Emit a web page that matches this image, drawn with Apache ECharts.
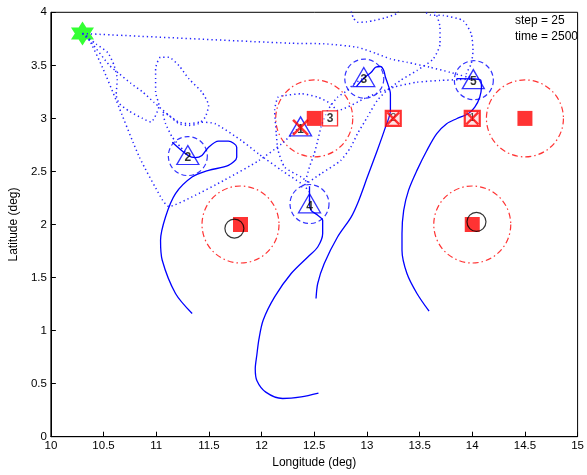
<!DOCTYPE html>
<html>
<head>
<meta charset="utf-8">
<script src="https://cdn.jsdelivr.net/npm/echarts@6/dist/echarts.min.js"></script>
<style>
  html, body { margin: 0; padding: 0; background: #fff; }
  #chart { width: 587px; height: 475px; }
</style>
</head>
<body>
<div id="chart"></div>
<script>
// ---- scenario state at the current step ----
const stepCount = 25;
const simTime = 2500;

// launch base
const basePos = [[10.30, 3.80]];

// vehicles 1..5 (current positions)
const uavIds = ['1', '2', '3', '4', '5'];
const uavPos = [[12.37, 2.925], [11.30, 2.655], [12.97, 3.39], [12.455, 2.20], [14.01, 3.37]];
// vehicle 1 is lost
const lostUav = [[12.37, 2.915]];
// sensor footprints of the active vehicles
const sensorCenters = [[11.30, 2.645], [12.975, 3.375], [12.455, 2.193], [14.015, 3.36]];

// targets and their threat rings
const targetPos = [[11.80, 2.00], [12.50, 3.00], [14.00, 2.00], [14.50, 3.00]];
const openTargetPos = [[12.65, 3.00]];
const openTargetIds = ['3'];
const hitTargetPos = [[13.25, 3.00], [14.00, 3.00]];
const hitTargetIds = ['2', '1'];
// position estimates
const estimatePos = [[11.742, 1.962], [14.04, 2.025]];

// flown trails (dotted)
const trailA = [[10.30, 3.80], [10.35, 3.767], [10.49, 3.48], [10.62, 3.17], [10.84, 2.635], [11.06, 2.23], [11.12, 2.17],
  [11.34, 2.26], [11.65, 2.42], [11.97, 2.60], [12.19, 2.76], [12.37, 2.93]];
const trailB = [[10.30, 3.80], [10.43, 3.70], [10.54, 3.62], [10.60, 3.50], [10.63, 3.37], [10.62, 3.22], [10.65, 3.14],
  [10.74, 3.07], [10.87, 3.00], [10.95, 2.965], [11.026, 3.122], [10.994, 3.247], [10.994, 3.373], [10.994, 3.467],
  [11.04, 3.576], [11.12, 3.576], [11.215, 3.498], [11.31, 3.373], [11.434, 3.247], [11.497, 3.122], [11.465, 3.012],
  [11.40, 2.95], [11.31, 2.934], [11.215, 2.95], [11.12, 3.028], [11.06, 3.06], [11.089, 2.95], [11.152, 2.824],
  [11.23, 2.73], [11.30, 2.655]];
const trailC = [[10.30, 3.80], [10.38, 3.72], [10.556, 3.50], [10.65, 3.42], [10.76, 3.33], [10.87, 3.25], [10.98, 3.15],
  [11.12, 3.03], [11.215, 2.965], [11.31, 2.95], [11.42, 2.965], [11.56, 2.95], [11.81, 2.79], [11.97, 2.667],
  [12.19, 2.51], [12.376, 2.385], [12.455, 2.30], [12.455, 2.20]];
const trailD = [[12.44, 2.40], [12.376, 2.447], [12.22, 2.54], [12.156, 2.70], [12.14, 2.855], [12.124, 3.075],
  [12.156, 3.20], [12.22, 3.216], [12.376, 3.232], [12.533, 3.20], [12.658, 3.138], [12.721, 3.075], [13.004, 3.20],
  [13.254, 3.294], [13.475, 3.341], [13.694, 3.357], [13.88, 3.366], [14.01, 3.37]];
const trailE = [[12.376, 2.353], [12.564, 2.479], [12.752, 2.604], [12.847, 2.729], [12.91, 2.855], [13.004, 3.012],
  [13.098, 3.169], [13.19, 3.263], [13.317, 3.357], [13.475, 3.451], [13.63, 3.561], [13.694, 3.702], [13.694, 3.859],
  [13.663, 3.969], [13.62, 4.05]];
const trailF = [[12.407, 2.369], [12.454, 2.541], [12.50, 2.667], [12.533, 2.79], [12.564, 2.918], [12.627, 3.075],
  [12.721, 3.20], [12.815, 3.263], [12.877, 3.326], [12.97, 3.38]];
const trailG = [[10.30, 3.80], [12.28, 3.708], [12.595, 3.703], [12.91, 3.67], [13.098, 3.608], [13.223, 3.561],
  [13.38, 3.529], [13.60, 3.482], [13.788, 3.435], [14.01, 3.373]];
const trailH = [[12.84, 4.05], [12.87, 3.95], [12.91, 3.906], [13.00, 3.91], [13.066, 3.922], [13.18, 3.95],
  [13.286, 3.99], [13.31, 4.05]];
const trailI = [[13.50, 4.05], [13.60, 3.975], [13.725, 3.97], [13.913, 3.922], [13.99, 3.797], [14.007, 3.64],
  [13.99, 3.514], [13.945, 3.42], [14.01, 3.37]];
const trails = [trailA, trailB, trailC, trailD, trailE, trailF, trailG, trailH, trailI];

// planned paths (solid)
const pathA = [[11.341, 1.161], [11.183, 1.350], [11.057, 1.663], [11.041, 1.851], [11.088, 2.071], [11.183, 2.291],
  [11.340, 2.447], [11.497, 2.510], [11.685, 2.557], [11.764, 2.635], [11.764, 2.729], [11.685, 2.786], [11.591, 2.786],
  [11.497, 2.729], [11.434, 2.651], [11.371, 2.630], [11.302, 2.651], [11.152, 2.776]];
const pathB = [[12.54, 0.41], [12.376, 0.375], [12.20, 0.36], [12.04, 0.42], [11.955, 0.53], [11.94, 0.64],
  [11.955, 0.77], [11.975, 0.92], [12.015, 1.098], [12.124, 1.318], [12.281, 1.538], [12.439, 1.694], [12.533, 1.788],
  [12.580, 1.914], [12.580, 2.040], [12.533, 2.087], [12.470, 2.134], [12.455, 2.197], [12.455, 2.36]];
const pathC = [[12.517, 1.302], [12.533, 1.444], [12.595, 1.632], [12.721, 1.882], [12.85, 2.07], [12.92, 2.22],
  [13.004, 2.447], [13.098, 2.698], [13.176, 2.918], [13.223, 3.075], [13.223, 3.232], [13.198, 3.326], [13.176, 3.388],
  [13.160, 3.451], [13.129, 3.489], [13.082, 3.482], [13.041, 3.435], [12.972, 3.38], [12.90, 3.30]];
const pathD = [[13.59, 1.183], [13.475, 1.350], [13.380, 1.538], [13.333, 1.757], [13.333, 1.914], [13.349, 2.134],
  [13.395, 2.322], [13.475, 2.510], [13.569, 2.698], [13.663, 2.856], [13.757, 2.950], [13.851, 2.997], [13.961, 3.044],
  [14.024, 3.106], [14.071, 3.200], [14.087, 3.294], [14.08, 3.36], [14.01, 3.372], [13.85, 3.375]];
const paths = [pathA, pathB, pathC, pathD];

const BLUE = '#0000ff';
const RED = '#ff0000';
const FONT = 'Liberation Sans, Arial, Helvetica, sans-serif';
const HEXAGRAM = 'path://M12,0 L22.4,18 L1.6,18 Z M12,24 L1.6,6 L22.4,6 Z';
const CROSS = 'path://M0,0 L10,10 M10,0 L0,10';

const series = [];

// threat rings around targets
series.push({
  type: 'scatter', data: targetPos, symbol: 'circle', symbolSize: 77, silent: true,
  itemStyle: { color: 'rgba(0,0,0,0)', borderColor: RED, borderWidth: 1.2, borderType: [6, 3, 1.5, 3] }
});
// sensor footprints
series.push({
  type: 'scatter', data: sensorCenters, symbol: 'circle', symbolSize: 39, silent: true,
  itemStyle: { color: 'rgba(0,0,0,0)', borderColor: BLUE, borderWidth: 1.2, borderType: [5, 3] }
});
// base
series.push({
  type: 'scatter', data: basePos, symbol: HEXAGRAM, symbolSize: [23, 24], silent: true,
  itemStyle: { color: '#00ff00' }
});
// trails
trails.forEach(t => series.push({
  type: 'line', data: t, showSymbol: false, symbol: 'none', smooth: 0.2, silent: true, clip: true,
  lineStyle: { color: '#2222ff', width: 1.5, type: [1.3, 3] }
}));
// planned paths
paths.forEach(p => series.push({
  type: 'line', data: p, showSymbol: false, symbol: 'none', smooth: 0.3, silent: true, clip: true,
  lineStyle: { color: BLUE, width: 1.3 }
}));
// estimates
series.push({
  type: 'scatter', data: estimatePos, symbol: 'circle', symbolSize: 19, silent: true, z: 3,
  itemStyle: { color: 'rgba(0,0,0,0)', borderColor: '#000', borderWidth: 1.2 }
});
// targets
series.push({
  type: 'scatter', data: targetPos, symbol: 'rect', symbolSize: 15, silent: true, z: 2,
  itemStyle: { color: RED }
});
series.push({
  type: 'scatter', silent: true, z: 3,
  data: openTargetPos.map((p, i) => ({ value: p, name: openTargetIds[i] })),
  symbol: 'rect', symbolSize: 15,
  itemStyle: { color: 'rgba(255,255,255,0.6)', borderColor: RED, borderWidth: 1.3 },
  label: { show: true, position: 'inside', formatter: '{b}', color: '#000', fontSize: 12, fontFamily: FONT, fontWeight: 'bold' }
});
series.push({
  type: 'scatter', silent: true, z: 3,
  data: hitTargetPos.map((p, i) => ({ value: p, name: hitTargetIds[i] })),
  symbol: 'rect', symbolSize: 15,
  itemStyle: { color: 'rgba(255,120,120,0.25)', borderColor: RED, borderWidth: 2.2 },
  label: { show: true, position: 'inside', formatter: '{b}', color: '#222', fontSize: 11, fontFamily: FONT }
});
series.push({
  type: 'scatter', data: hitTargetPos, symbol: CROSS, symbolSize: 12, silent: true, z: 4,
  itemStyle: { color: 'rgba(0,0,0,0)', borderColor: RED, borderWidth: 2.2 }
});
// vehicles
series.push({
  type: 'scatter', silent: true, z: 4,
  data: uavPos.map((p, i) => ({ value: p, name: uavIds[i] })),
  symbol: 'triangle', symbolSize: [22, 19],
  itemStyle: { color: 'rgba(0,0,0,0)', borderColor: BLUE, borderWidth: 1.3 },
  label: { show: true, position: 'inside', offset: [0, 3], formatter: '{b}', color: '#000', fontSize: 12, fontFamily: FONT, fontWeight: 'bold' }
});
series.push({
  type: 'scatter', data: lostUav, symbol: CROSS, symbolSize: 15, silent: true, z: 5,
  itemStyle: { color: 'rgba(0,0,0,0)', borderColor: RED, borderWidth: 2.6 }
});

const chart = echarts.init(document.getElementById('chart'), null, { renderer: 'canvas' });
chart.setOption({
  animation: false,
  backgroundColor: '#fff',
  grid: { left: 47.7, right: 8.5, top: 12.3, bottom: 38.3, show: true, borderColor: '#000', borderWidth: 1, containLabel: false },
  xAxis: {
    type: 'value', min: 10, max: 15, interval: 0.5,
    name: 'Longitude (deg)', nameLocation: 'middle', nameGap: 20,
    nameTextStyle: { color: '#000', fontSize: 12, fontFamily: FONT },
    axisLine: { show: true, lineStyle: { color: '#000', width: 1 } },
    axisTick: { show: true, inside: true, length: 5, lineStyle: { color: '#000' } },
    axisLabel: { color: '#000', fontSize: 11.5, fontFamily: FONT, margin: 3, showMinLabel: true, showMaxLabel: true },
    splitLine: { show: false }
  },
  yAxis: {
    type: 'value', min: 0, max: 4, interval: 0.5,
    name: 'Latitude (deg)', nameLocation: 'middle', nameGap: 23, nameRotate: 90,
    nameTextStyle: { color: '#000', fontSize: 12, fontFamily: FONT },
    axisLine: { show: true, lineStyle: { color: '#000', width: 1 } },
    axisTick: { show: true, inside: true, length: 5, lineStyle: { color: '#000' } },
    axisLabel: { color: '#000', fontSize: 11.5, fontFamily: FONT, margin: 4, showMinLabel: true, showMaxLabel: true },
    splitLine: { show: false }
  },
  graphic: [
    { type: 'text', left: 515, top: 15, style: { text: 'step = ' + stepCount, fill: '#000', font: '12px ' + FONT } },
    { type: 'text', left: 515, top: 31, style: { text: 'time = ' + simTime, fill: '#000', font: '12px ' + FONT } }
  ],
  series: series
});
</script>
</body>
</html>
